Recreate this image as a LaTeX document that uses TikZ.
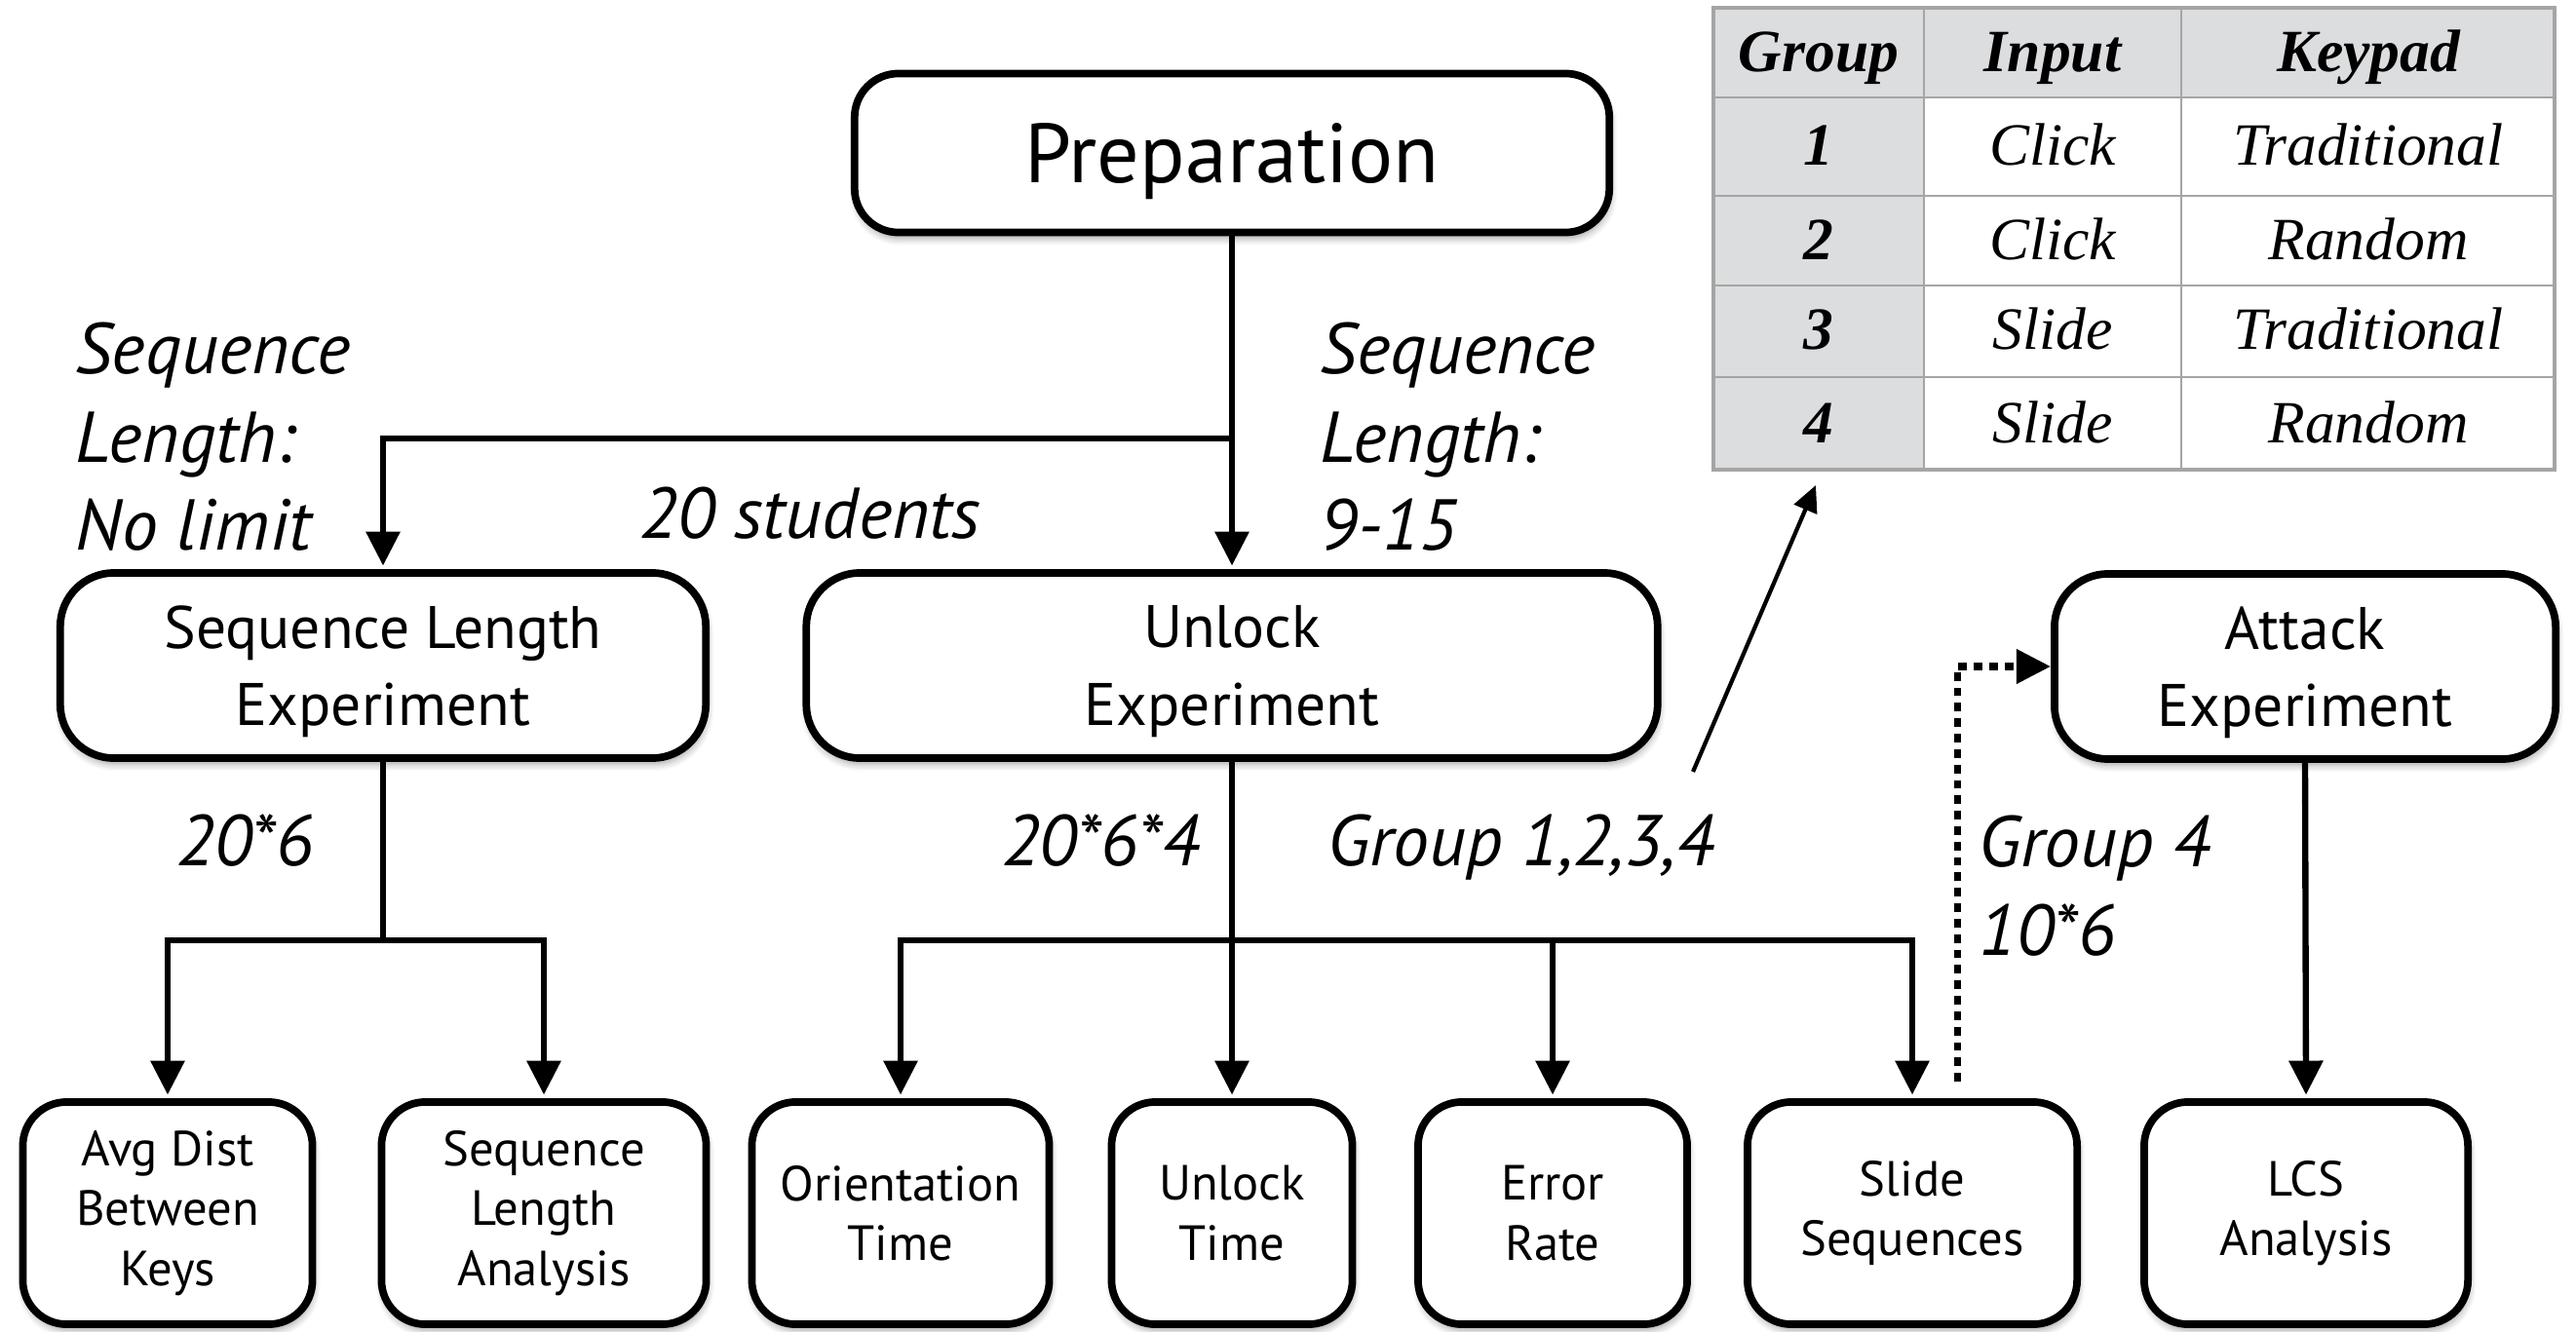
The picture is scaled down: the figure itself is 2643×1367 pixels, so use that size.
\documentclass[tikz,border=0pt]{standalone}
\usepackage{fontspec}
\setmainfont{PT Sans}
\newfontfamily\tabfont{Liberation Serif}
\usetikzlibrary{positioning, arrows.meta, shadows.blur}

\definecolor{cellgray}{RGB}{220,221,223}
\definecolor{gridgray}{RGB}{165,165,165}

\begin{document}
\begin{tikzpicture}[
    x = 0.01cm,
    y = -0.01cm,
    > = {Triangle[length=0.35cm, width=0.34cm]},
    conn/.style = {->, line width=1.8pt, shorten >=1pt},
    dotconn/.style = {->, line width=2pt, dash pattern=on 2.5pt off 2pt},
    noteconn/.style = {-{Triangle[length=0.27cm, width=0.25cm]}, line width=1.2pt},
    box/.style = {draw, line width=2.2pt, fill=white, align=center, inner sep=0pt,
        blur shadow={shadow blur steps=6, shadow xshift=0.4pt, shadow yshift=-1.8pt, shadow opacity=35}},
    topbox/.style = {box, rounded corners=0.45cm, minimum height=1.63cm, text depth=0pt,
        font=\fontsize{24.5}{29}\selectfont},
    midbox/.style = {box, rounded corners=0.55cm, minimum height=1.90cm, text depth=-2pt,
        font=\fontsize{17.5}{22.5}\selectfont},
    leafbox/.style = {box, rounded corners=0.45cm, minimum height=2.28cm,
        font=\fontsize{14.4}{17.4}\selectfont},
    lbl/.style = {inner sep=0pt, align=left, font=\fontsize{21}{25.8}\selectfont\itshape},
    tabhead/.style = {inner sep=0pt, anchor=base, font=\tabfont\fontsize{17.5}{21}\selectfont\bfseries\itshape},
    tabcell/.style = {inner sep=0pt, anchor=base, font=\tabfont\fontsize{17.5}{21}\selectfont\itshape}
]
\useasboundingbox (0,0) rectangle (2643,1367);

% 1. Group table (top right)
\fill[cellgray] (1758,8) rectangle (2621,100);
\fill[cellgray] (1758,100) rectangle (1974,482);
\foreach \yy in {100, 201, 293, 387} {
    \draw[gridgray, line width=0.8pt] (1758,\yy) -- (2621,\yy);
}
\foreach \xx in {1974, 2238} {
    \draw[gridgray, line width=0.8pt] (\xx,8) -- (\xx,482);
}
\draw[gridgray, line width=1pt] (1758,8) rectangle (2621,482);

\node[tabhead] (hgroup) at (1866,74) {Group};
\node[tabhead] (hinput) at (2106,74) {Input};
\node[tabhead] (hkeypad) at (2430,74) {Keypad};
\foreach \r/\inp/\kp/\by in {1/Click/Traditional/170, 2/Click/Random/267,
                              3/Slide/Traditional/359, 4/Slide/Random/454} {
    \node[tabhead] (grp\r) at (1866,\by) {\r};
    \node[tabcell] (inp\r) at (2106,\by) {\inp};
    \node[tabcell] (kpd\r) at (2430,\by) {\kp};
}

% 2. Experiment boxes
\node[topbox, minimum width=7.74cm] (prep) at (1264,157) {Preparation};
\node[midbox, minimum width=6.62cm] (seqexp) at (393,683) {Sequence Length\\Experiment};
\node[midbox, minimum width=8.73cm] (unlockexp) at (1264,683) {Unlock\\Experiment};
\node[midbox, minimum width=5.14cm] (attackexp) at (2365,684) {Attack\\Experiment};

% 3. Result boxes
\node[leafbox, minimum width=2.97cm] (avgdist) at (172,1245) {Avg Dist\\Between\\Keys};
\node[leafbox, minimum width=3.33cm] (seqana) at (558,1245) {Sequence\\Length\\Analysis};
\node[leafbox, minimum width=3.05cm] (orient) at (924,1245) {Orientation\\Time};
\node[leafbox, minimum width=2.47cm] (unlocktime) at (1264,1245) {Unlock\\Time};
\node[leafbox, minimum width=2.76cm] (errrate) at (1593,1245) {Error\\Rate};
\node[leafbox, minimum width=3.38cm] (slideseq) at (1962,1245) {Slide\\Sequences};
\node[leafbox, minimum width=3.32cm] (lcs) at (2366,1245) {LCS\\Analysis};

% 4. Labels
\node[lbl, anchor=north west] (lenleft) at (77,330) {Sequence\\Length:\\No limit};
\node[lbl, anchor=north west] (lenright) at (1354,330) {Sequence\\Length:\\9-15};
\node[lbl, anchor=base west] (students) at (656,552) {20 students};
\node[lbl, anchor=base west] (cntseq) at (181,888) {20*6};
\node[lbl, anchor=base east] (cntunlock) at (1232,888) {20*6*4};
\node[lbl, anchor=base west] (grpall) at (1362,888) {Group 1,2,3,4};
\node[lbl, anchor=north west] (grpfour) at (2030,836) {Group 4\\10*6};

% 5. Connectors
\coordinate (split1) at (1264,450);
\draw[conn] (prep.south) -- (unlockexp.north);
\draw[conn] (split1) -| (seqexp.north);

\coordinate (split2) at (393,965);
\draw[conn] (seqexp.south) -- (split2) -| (avgdist.north);
\draw[conn] (split2) -| (seqana.north);

\coordinate (split3) at (1264,965);
\draw[conn] (unlockexp.south) -- (unlocktime.north);
\draw[conn] (split3) -| (orient.north);
\draw[conn] (split3) -| (errrate.north);
\draw[conn] (split3) -| (slideseq.north);

\draw[conn] (attackexp.south) -- (lcs.north);

\coordinate (dotstart) at (2008,1110);
\draw[dotconn] (dotstart) |- (attackexp.west);

\coordinate (notestart) at (1737,792);
\coordinate (tabfoot) at (1863,498);
\draw[noteconn] (notestart) -- (tabfoot);

\end{tikzpicture}
\end{document}
